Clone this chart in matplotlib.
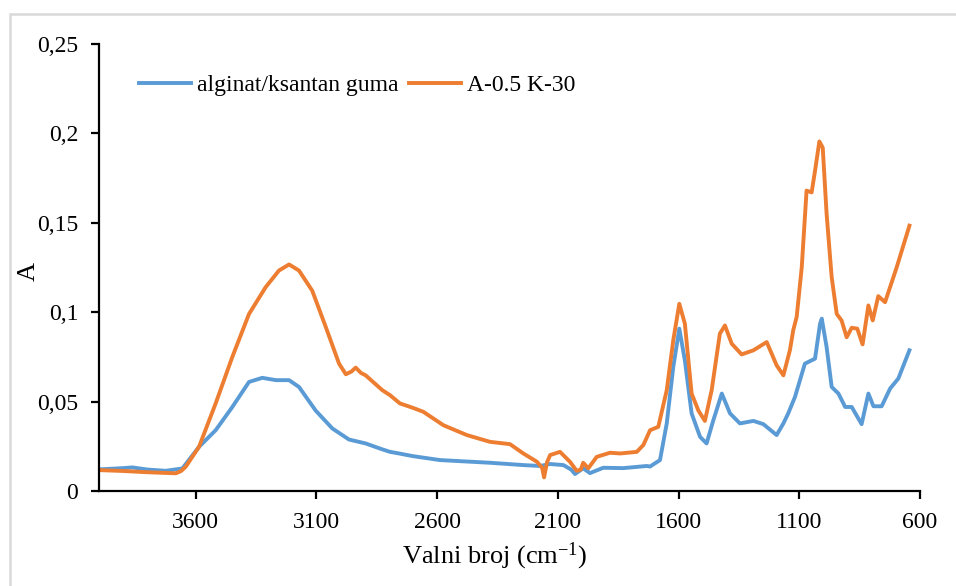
import numpy as np
import matplotlib
matplotlib.use("Agg")
import matplotlib.pyplot as plt
from matplotlib.patches import Rectangle
from matplotlib.ticker import FuncFormatter

plt.rcParams['font.family'] = ['Liberation Serif', 'DejaVu Serif']
plt.rcParams['mathtext.default'] = 'regular'

# traced spectra (wavenumber cm-1, absorbance)
wn_orange = [4000, 3900, 3800, 3700, 3682, 3660, 3641, 3586, 3517, 3448, 3379, 3310,
             3255, 3213, 3172, 3117, 3061, 3006, 2978, 2955, 2937, 2915, 2896, 2827,
             2795, 2754, 2700, 2657, 2574, 2477, 2381, 2298, 2243, 2187, 2165, 2157,
             2145, 2132, 2091, 2050, 2022, 2005, 1995, 1974, 1939, 1884, 1842, 1773,
             1746, 1718, 1684, 1649, 1622, 1597, 1574, 1546, 1518, 1491, 1463, 1429,
             1408, 1380, 1339, 1290, 1235, 1194, 1166, 1139, 1125, 1111, 1090, 1070,
             1049, 1035, 1017, 1003, 987, 966, 945, 925, 904, 883, 860, 838, 814,
             796, 773, 745, 697, 644]
a_orange = [0.0117, 0.0112, 0.0105, 0.0100, 0.0099, 0.0112, 0.0136, 0.0247, 0.049, 0.075,
            0.099, 0.114, 0.1233, 0.1267, 0.1233, 0.112, 0.0917, 0.0712, 0.0653, 0.0668,
            0.069, 0.066, 0.0647, 0.0564, 0.0536, 0.049, 0.0465, 0.0443, 0.0368, 0.0313,
            0.0275, 0.0262, 0.021, 0.0164, 0.0130, 0.0076, 0.016, 0.0201, 0.0219, 0.0164,
            0.0113, 0.012, 0.0158, 0.0127, 0.0191, 0.0214, 0.021, 0.0219, 0.0257, 0.034,
            0.0359, 0.0564, 0.0843, 0.1047, 0.0936, 0.0545, 0.045, 0.0392, 0.0564, 0.088,
            0.0926, 0.0824, 0.0764, 0.0787, 0.0833, 0.0703, 0.0647, 0.0787, 0.09, 0.0973,
            0.125, 0.168, 0.167, 0.179, 0.1955, 0.192, 0.155, 0.1196, 0.099, 0.0954,
            0.086, 0.0913, 0.0908, 0.082, 0.1038, 0.0954, 0.109, 0.1056, 0.125, 0.1484]

wn_blue = [4000, 3900, 3862, 3800, 3724, 3655, 3586, 3517, 3448, 3379, 3324, 3268,
           3213, 3172, 3103, 3034, 2965, 2896, 2827, 2795, 2758, 2700, 2588, 2381,
           2243, 2174, 2132, 2077, 2045, 2029, 1995, 1967, 1912, 1829, 1732, 1718,
           1677, 1649, 1622, 1597, 1574, 1546, 1511, 1484, 1456, 1421, 1387, 1346,
           1290, 1249, 1194, 1166, 1146, 1118, 1077, 1049, 1035, 1014, 1007, 987,
           966, 938, 910, 883, 842, 814, 793, 759, 724, 690, 644]
a_blue = [0.0121, 0.0128, 0.0132, 0.0120, 0.0113, 0.0126, 0.0247, 0.034, 0.047, 0.061,
          0.0633, 0.062, 0.062, 0.0582, 0.045, 0.035, 0.0288, 0.0266, 0.0233, 0.0219,
          0.021, 0.0195, 0.0173, 0.0158, 0.0145, 0.014, 0.0151, 0.0145, 0.012, 0.0095,
          0.0127, 0.010, 0.013, 0.0128, 0.014, 0.0137, 0.0173, 0.0378, 0.0694, 0.0908,
          0.0731, 0.0434, 0.0303, 0.0266, 0.0396, 0.0545, 0.0434, 0.0378, 0.0392, 0.0374,
          0.0313, 0.0378, 0.0434, 0.0526, 0.0712, 0.0731, 0.074, 0.0936, 0.0964, 0.0805,
          0.0582, 0.0545, 0.047, 0.047, 0.0374, 0.0545, 0.0474, 0.0474, 0.0573, 0.0629,
          0.0787]

labels = ['alginat/ksantan guma', 'A-0.5 K-30']
xticks = [3600, 3100, 2600, 2100, 1600, 1100, 600]
yticks = [0, 0.05, 0.1, 0.15, 0.2, 0.25]

fig = plt.figure(figsize=(9.56, 5.86), dpi=100)
ax = fig.add_axes([0.1036, 0.1621, 0.8588, 0.7628])

# outer light frame (cut off on right/bottom as in source)
fig.patches.append(Rectangle((10 / 956, -0.2), 1.2, 1 - 14 / 586 + 0.2,
                             transform=fig.transFigure, fill=False,
                             edgecolor='#D9D9D9', lw=1.8))

ax.plot(wn_blue, a_blue, color='#5B9BD5', lw=2.8, label=labels[0])
ax.plot(wn_orange, a_orange, color='#ED7D31', lw=2.8, label=labels[1])

ax.set_xlim(4000, 600)
ax.set_ylim(0, 0.25)
ax.set_xticks(xticks)
ax.set_yticks(yticks)
ax.yaxis.set_major_formatter(FuncFormatter(lambda v, p: ('%g' % round(v, 2)).replace('.', ',')))

for s in ['top', 'right']:
    ax.spines[s].set_visible(False)
for s in ['left', 'bottom']:
    ax.spines[s].set_linewidth(1.6)
ax.tick_params(direction='out', length=6, width=1.6, labelsize=17, pad=9)

ax.set_ylabel('A', fontsize=19)
ax.yaxis.set_label_coords(-0.072, 0.49)
ax.set_xlabel('Valni broj (cm$^{-1}$)', fontsize=19)
ax.xaxis.set_label_coords(0.482, -0.11)

ax.legend(loc='center left', bbox_to_anchor=(0.0487, 0.908), ncol=2, frameon=False,
          fontsize=17, handlelength=2.2, handletextpad=0.25, columnspacing=0.45,
          borderpad=0, borderaxespad=0)

plt.savefig('out.png', dpi=100)
